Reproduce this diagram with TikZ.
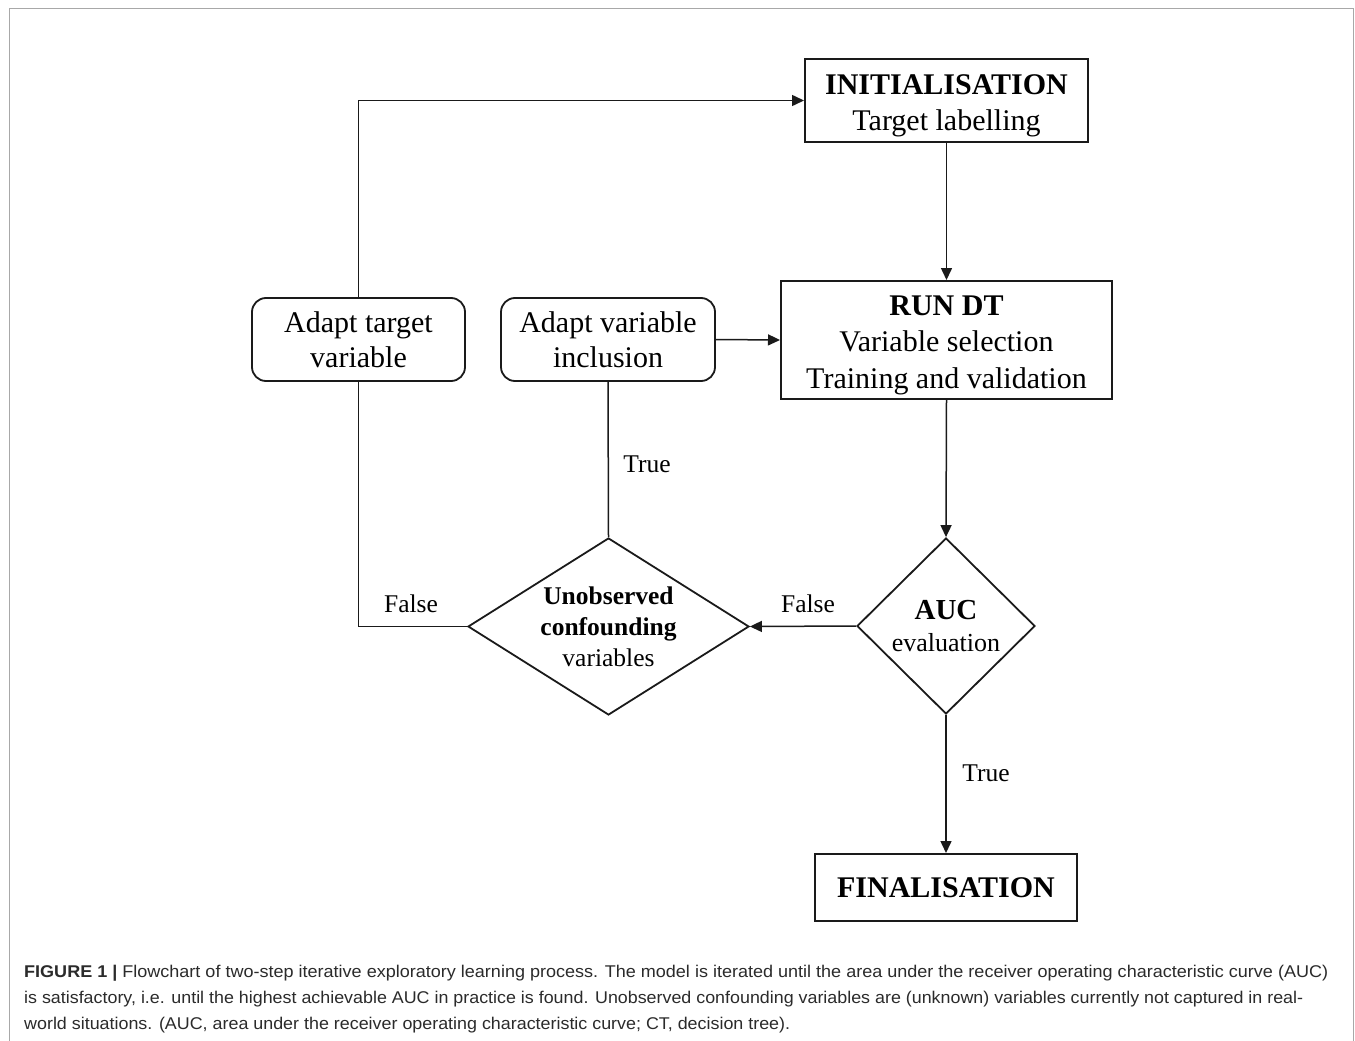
\documentclass[tikz,border=0pt]{standalone}
\usepackage{fontspec}
\setmainfont{Liberation Serif}
\newfontfamily\capfont{Liberation Sans}
\usetikzlibrary{shapes.geometric,arrows.meta}
\definecolor{ink}{HTML}{1A1A1A}
\definecolor{framegray}{HTML}{A8A8A8}
\definecolor{captext}{HTML}{2B2B2B}
\begin{document}
\begin{tikzpicture}[x=1pt,y=-1pt,
  box/.style={draw=ink,line width=2pt,rectangle,align=center,inner sep=0pt,
    font=\fontsize{30}{35.5}\selectfont},
  rbox/.style={box,rounded corners=14pt,line width=1.8pt},
  decide/.style={draw=ink,line width=1.8pt,diamond,align=center,inner sep=0pt},
  conn/.style={draw=ink,line width=1.5pt},
  arrow/.style={conn,-{Triangle[length=12pt,width=11pt]}},
  lab/.style={font=\fontsize{25.5}{30}\selectfont,anchor=base,inner sep=0pt},
  capline/.style={anchor=base west,inner sep=0pt,text=captext,
    font=\capfont\fontsize{17}{26}\selectfont}]
\useasboundingbox (0,0) rectangle (1355,1041);
\fill[white] (0,0) rectangle (1355,1041);
\draw[framegray,line width=1.6pt] (9.5,1045) -- (9.5,8.5) -- (1353.5,8.5) -- (1353.5,1045);

\node[box,minimum width=283pt,minimum height=83pt] (init) at (946.5,100.5)
  {\rule{0pt}{30pt}\textbf{INITIALISATION}\\Target labelling};
\node[box,minimum width=331pt,minimum height=118pt,font=\fontsize{30}{36.5}\selectfont] (rundt) at (946.5,340)
  {\rule{0pt}{30pt}\textbf{RUN DT}\\Variable selection\\Training and validation};
\node[rbox,minimum width=213pt,minimum height=83pt] (adt) at (358.5,339.5)
  {Adapt target\\variable};
\node[rbox,minimum width=214pt,minimum height=83pt] (adv) at (608,339.5)
  {Adapt variable\\inclusion};
\node[decide,aspect=1.01,minimum width=178pt,minimum height=176pt,
  font=\fontsize{26}{32}\selectfont] (auc) at (946,626)
  {{\fontsize{29}{32}\selectfont\textbf{AUC}}\\evaluation};
\node[decide,aspect=1.59,minimum width=281pt,minimum height=177pt,
  font=\fontsize{25.5}{31}\selectfont] (unobs) at (608.5,626.5)
  {\textbf{Unobserved}\\\textbf{confounding}\\variables};
\node[box,minimum width=262pt,minimum height=67pt] (fin) at (946,887.5)
  {\textbf{FINALISATION}};

\draw[arrow] (adt.north) |- (init.west);
\draw[arrow] (init.south) -- (rundt.north);
\draw[arrow] (adv.east) -- (rundt.west);
\draw[arrow] (rundt.south) -- (auc.north);
\draw[arrow] (auc.west) -- (unobs.east);
\draw[conn] (unobs.north) -- (adv.south);
\draw[conn] (unobs.west) -| (adt.south);
\draw[arrow] (auc.south) -- (fin.north);

\node[lab] (lfalse1) at (808,612) {False};
\node[lab] (lfalse2) at (411,612) {False};
\node[lab] (ltrue1) at (647,472) {True};
\node[lab] (ltrue2) at (986,781) {True};

\node[capline] (cap1) at (24,977) {\resizebox{1304pt}{\height}{\textbf{FIGURE 1} \textbf{|} Flowchart of two-step iterative exploratory learning process. The model is iterated until the area under the receiver operating characteristic curve (AUC)}};
\node[capline] (cap2) at (24,1003) {\resizebox{1279pt}{\height}{is satisfactory, i.e. until the highest achievable AUC in practice is found. Unobserved confounding variables are (unknown) variables currently not captured in real-}};
\node[capline] (cap3) at (24,1029) {\resizebox{766pt}{\height}{world situations. (AUC, area under the receiver operating characteristic curve; CT, decision tree).}};
\end{tikzpicture}
\end{document}
